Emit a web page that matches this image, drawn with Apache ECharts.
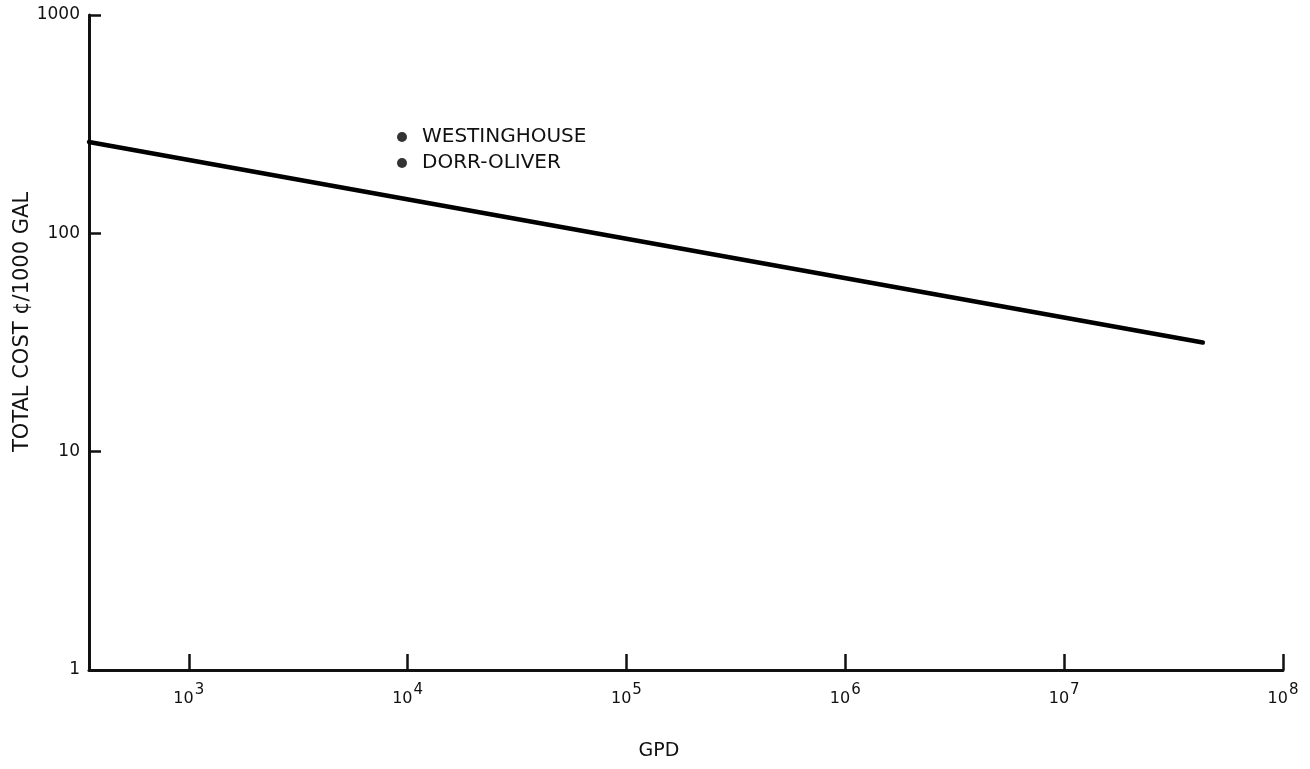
<!DOCTYPE html>
<html>
<head>
<meta charset="utf-8">
<script src="https://cdn.jsdelivr.net/npm/echarts@6/dist/echarts.min.js"></script>
<style>
  html, body { margin: 0; padding: 0; background: #fff; }
  #chart { width: 1310px; height: 769px; }
</style>
</head>
<body>
<div id="chart"></div>
<script>
// ---- data ----
const gpd = [350, 4.3e7];            // flow, gallons per day
const totalCost = [262, 31.6];       // cents per 1000 gallons
const legendNames = ['WESTINGHOUSE', 'DORR-OLIVER'];
const westinghousePoints = [];       // no points visible in the reference
const dorrOliverPoints = [];
const xTickPowers = [3, 4, 5, 6, 7, 8];
const yTickLabels = ['1', '10', '100', '1000'];

const FONT = '"DejaVu Sans", "Liberation Sans", Arial, sans-serif';
const INK = '#111';

const chart = echarts.init(document.getElementById('chart'), null, { renderer: 'canvas' });

function isPow10(v) {
  const l = Math.log10(v);
  return Math.abs(l - Math.round(l)) < 1e-6;
}

const option = {
  backgroundColor: '#fff',
  animation: false,
  textStyle: { fontFamily: FONT, color: INK },
  grid: { left: 89, right: 27, top: 15, bottom: 99, containLabel: false, outerBoundsMode: 'none' },
  legend: {
    data: legendNames,
    orient: 'vertical',
    left: 397,
    top: 127,
    padding: 0,
    itemGap: 6,
    itemWidth: 10,
    itemHeight: 10,
    icon: 'circle',
    selectedMode: false,
    itemStyle: { color: '#000' },
    textStyle: { fontFamily: FONT, fontSize: 20, color: INK, padding: [0, 0, 0, 10] }
  },
  xAxis: {
    type: 'log',
    logBase: 10,
    min: 350,
    max: 1e8,
    name: 'GPD',
    nameLocation: 'middle',
    nameGap: 72,
    nameMoveOverlap: false,
    nameTextStyle: { fontFamily: FONT, fontSize: 19, color: INK, padding: [0, 54, 0, 0] },
    axisLine: { show: true, lineStyle: { color: INK, width: 3 } },
    axisTick: { show: true, inside: true, length: 16, lineStyle: { color: INK, width: 2.5 } },
    splitLine: { show: false },
    minorTick: { show: false },
    axisLabel: {
      showMinLabel: false,
      margin: 13,
      formatter: function (v) {
        if (!isPow10(v)) return '';
        const p = Math.round(Math.log10(v));
        if (xTickPowers.indexOf(p) < 0) return '';
        return '{b|10}{s|' + p + '}';
      },
      rich: {
        b: { fontFamily: FONT, fontSize: 16, color: INK, verticalAlign: 'bottom' },
        s: { fontFamily: FONT, fontSize: 15, color: INK, padding: [0, 0, 9, 1] }
      }
    }
  },
  yAxis: {
    type: 'log',
    logBase: 10,
    min: 1,
    max: 1000,
    name: 'TOTAL COST \u00A2/1000 GAL',
    nameLocation: 'middle',
    nameRotate: 90,
    nameGap: 56,
    nameMoveOverlap: false,
    nameTextStyle: { fontFamily: FONT, fontSize: 21, color: INK, padding: [0, 0, 0, 41] },
    axisLine: { show: true, lineStyle: { color: INK, width: 3 } },
    axisTick: { show: true, inside: true, length: 12, lineStyle: { color: INK, width: 2.5 } },
    splitLine: { show: false },
    minorTick: { show: false },
    axisLabel: {
      margin: 9,
      fontFamily: FONT,
      fontSize: 17,
      color: INK,
      formatter: function (v) {
        const s = String(Math.round(v));
        return yTickLabels.indexOf(s) >= 0 ? s : '';
      }
    }
  },
  series: [
    {
      name: 'cost',
      type: 'line',
      data: gpd.map((x, i) => [x, totalCost[i]]),
      showSymbol: false,
      symbol: 'none',
      lineStyle: { color: '#000', width: 4.5, cap: 'round' },
      silent: true
    },
    {
      name: legendNames[0],
      type: 'scatter',
      data: westinghousePoints,
      symbol: 'circle',
      symbolSize: 10,
      itemStyle: { color: '#000' }
    },
    {
      name: legendNames[1],
      type: 'scatter',
      data: dorrOliverPoints,
      symbol: 'circle',
      symbolSize: 10,
      itemStyle: { color: '#000' }
    }
  ]
};

chart.setOption(option);
</script>
</body>
</html>
